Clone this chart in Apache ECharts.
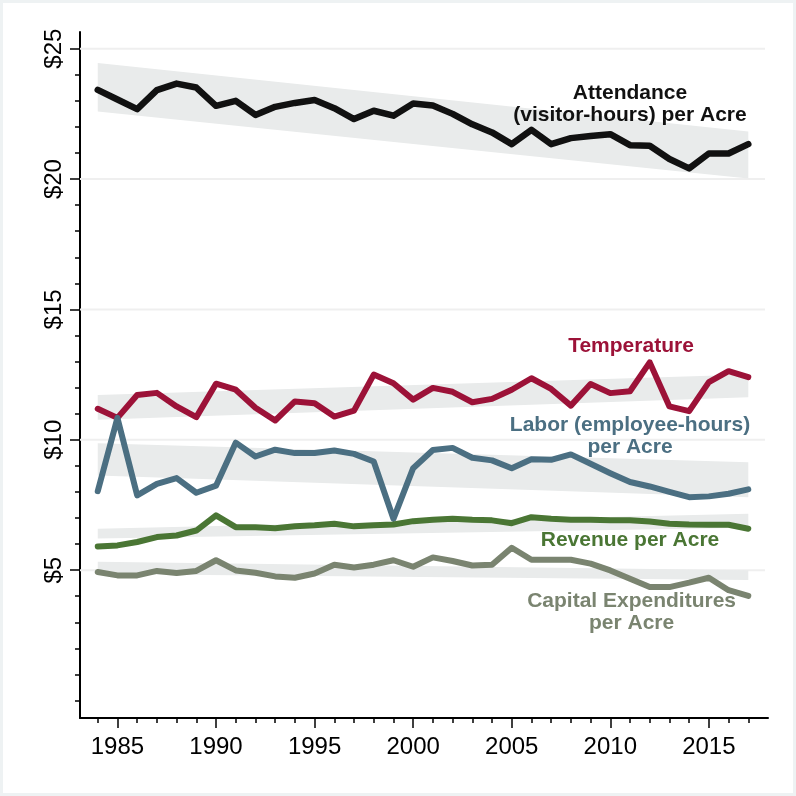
<!DOCTYPE html>
<html>
<head>
<meta charset="utf-8">
<script src="https://cdn.jsdelivr.net/npm/echarts@6/dist/echarts.min.js"></script>
<style>
html,body{margin:0;padding:0;background:#fff;}
#wrap{position:relative;width:796px;height:796px;}
#chart{width:796px;height:796px;}
#frame{position:absolute;left:0;top:0;width:796px;height:796px;box-sizing:border-box;border:3px solid #eef2f3;pointer-events:none;}
</style>
</head>
<body>
<div id="wrap"><div id="chart"></div><div id="frame"></div></div>
<script>
// ---- data ----
const years = [1984,1985,1986,1987,1988,1989,1990,1991,1992,1993,1994,1995,1996,1997,1998,1999,2000,2001,2002,2003,2004,2005,2006,2007,2008,2009,2010,2011,2012,2013,2014,2015,2016,2017];
const attendance = [23.42,23.05,22.68,23.41,23.66,23.51,22.81,23.0,22.46,22.77,22.92,23.03,22.72,22.3,22.62,22.43,22.9,22.82,22.5,22.1,21.79,21.34,21.89,21.34,21.57,21.65,21.72,21.3,21.28,20.77,20.41,20.98,20.98,21.34];
const temperature = [11.19,10.84,11.72,11.8,11.28,10.87,12.15,11.92,11.23,10.74,11.47,11.4,10.89,11.12,12.5,12.17,11.54,11.99,11.84,11.44,11.57,11.92,12.36,11.95,11.31,12.14,11.79,11.86,12.97,11.28,11.1,12.21,12.63,12.4];
const labor = [8.03,10.84,7.87,8.31,8.53,7.97,8.24,9.89,9.36,9.62,9.49,9.49,9.59,9.46,9.17,6.97,8.91,9.61,9.69,9.31,9.21,8.91,9.25,9.23,9.44,9.08,8.72,8.38,8.21,8.0,7.8,7.83,7.93,8.1];
const revenue = [5.91,5.95,6.08,6.27,6.33,6.52,7.1,6.65,6.65,6.61,6.68,6.72,6.78,6.68,6.72,6.75,6.88,6.93,6.97,6.93,6.91,6.8,7.03,6.97,6.93,6.93,6.91,6.91,6.87,6.78,6.75,6.74,6.74,6.59];
const capex = [4.93,4.8,4.8,4.97,4.89,4.97,5.38,4.99,4.9,4.76,4.71,4.87,5.21,5.1,5.21,5.38,5.13,5.49,5.35,5.18,5.21,5.86,5.4,5.4,5.4,5.25,4.99,4.67,4.35,4.35,4.52,4.71,4.23,4.01];

// trend confidence bands: values at first and last year
const bandYears = [1984, 2017];
const attendanceBandUpper = [24.45, 21.82];
const attendanceBandLower = [22.59, 20.02];
const temperatureBandUpper = [11.72, 12.5];
const temperatureBandLower = [10.77, 11.63];
const laborBandUpper = [9.87, 9.14];
const laborBandLower = [8.63, 7.8];
const revenueBandUpper = [6.59, 7.16];
const revenueBandLower = [6.21, 6.63];
const capexBandUpper = [5.32, 5.0];
const capexBandLower = [4.85, 4.62];

// ticks
const xMajorTicks = [1985,1990,1995,2000,2005,2010,2015];
const xMinorTicks = [1984,1985,1986,1987,1988,1989,1990,1991,1992,1993,1994,1995,1996,1997,1998,1999,2000,2001,2002,2003,2004,2005,2006,2007,2008,2009,2010,2011,2012,2013,2014,2015,2016,2017];
const yMajorTicks = [5,10,15,20,25];
const yMinorTicks = [0,1,2,3,4,5,6,7,8,9,10,11,12,13,14,15,16,17,18,19,20,21,22,23,24,25];
const yTickLabels = ['$5','$10','$15','$20','$25'];

const seriesNames = ['Attendance\n(visitor-hours) per Acre','Temperature','Labor (employee-hours)\nper Acre','Revenue per Acre','Capital Expenditures\nper Acre'];

// ---- chart ----
const FONT = '"Liberation Sans", Arial, Helvetica, sans-serif';
const colors = ['#111111','#9c1238','#4b6f82','#4a7634','#7a8470'];
const X_MIN = 1983.1, X_MAX = 2018, Y_MIN = -0.67, Y_MAX = 25.64;
const gridPos = {left: 80, right: 28, top: 32, bottom: 78};

function pairs(vals){ return years.map((y,i)=>[y, vals[i]]); }

const bands = [
  [attendanceBandUpper, attendanceBandLower],
  [temperatureBandUpper, temperatureBandLower],
  [laborBandUpper, laborBandLower],
  [revenueBandUpper, revenueBandLower],
  [capexBandUpper, capexBandLower]
].map(([u,l]) => [bandYears[0], bandYears[1], u[0], u[1], l[0], l[1]]);

const lineData = [attendance, temperature, labor, revenue, capex];
const annotationAnchors = [[2011.0,22.88],[2011.05,13.6],[2011.0,10.14],[2011.0,6.15],[2011.08,3.37]];

const chart = echarts.init(document.getElementById('chart'), null, {renderer:'canvas'});

const series = [];
// gridlines
series.push({
  type:'custom', xAxisIndex:0, yAxisIndex:0, z:1, silent:true,
  data: yMajorTicks.map(v=>[v]),
  encode:{y:0},
  renderItem(params, api){
    const cs = params.coordSys;
    const p = api.coord([X_MIN, api.value(0)]);
    return {type:'line', shape:{x1:cs.x, y1:p[1], x2:cs.x+cs.width-3, y2:p[1]}, style:{stroke:'#efefef', lineWidth:2}};
  }
});
// bands
series.push({
  type:'custom', xAxisIndex:0, yAxisIndex:0, z:2, silent:true,
  data: bands,
  encode:{x:[0,1], y:[2,3,4,5]},
  renderItem(params, api){
    const x0=api.value(0), x1=api.value(1);
    const pts=[api.coord([x0,api.value(2)]), api.coord([x1,api.value(3)]), api.coord([x1,api.value(5)]), api.coord([x0,api.value(4)])];
    return {type:'polygon', shape:{points:pts}, style:{fill:'#e9ebeb'}};
  }
});
// lines
lineData.forEach((vals,i)=>{
  series.push({
    type:'line', name:'s'+i, xAxisIndex:0, yAxisIndex:0, z:3, silent:true,
    data: pairs(vals), showSymbol:false, symbol:'none',
    lineStyle:{color:colors[i], width:(i===0?6.5:6), cap:'round', join:'round'}
  });
});
// annotations
series.push({
  type:'scatter', xAxisIndex:0, yAxisIndex:0, z:4, silent:true, symbolSize:0,
  itemStyle:{opacity:1},
  data: annotationAnchors.map((a,i)=>({value:a, name:seriesNames[i], label:{color:colors[i]}})),
  label:{show:true, position:'inside', formatter:p=>p.name, fontFamily:FONT, fontWeight:'bold', fontSize:21, lineHeight:22, align:'center', verticalAlign:'middle', opacity:1}
});

const option = {
  animation:false,
  backgroundColor:'#ffffff',
  grid:[Object.assign({}, gridPos), Object.assign({}, gridPos)],
  xAxis:[
    {type:'value', gridIndex:0, min:X_MIN, max:X_MAX, position:'bottom',
     axisLine:{show:true, onZero:false, lineStyle:{color:'#000', width:2}},
     axisTick:{show:true, customValues:xMajorTicks, length:10, lineStyle:{color:'#000', width:1.5}},
     axisLabel:{show:true, customValues:xMajorTicks, margin:17, color:'#000', fontFamily:FONT, fontSize:24, formatter:v=>String(v)},
     splitLine:{show:false}},
    {type:'value', gridIndex:1, min:X_MIN, max:X_MAX, position:'bottom',
     axisLine:{show:false, onZero:false},
     axisTick:{show:true, customValues:xMinorTicks, length:5, lineStyle:{color:'#000', width:1.5}},
     axisLabel:{show:false}, splitLine:{show:false}}
  ],
  yAxis:[
    {type:'value', gridIndex:0, min:Y_MIN, max:Y_MAX, position:'left',
     axisLine:{show:true, onZero:false, lineStyle:{color:'#000', width:2}},
     axisTick:{show:true, customValues:yMajorTicks, length:10, lineStyle:{color:'#000', width:1.5}},
     axisLabel:{show:true, customValues:yMajorTicks, rotate:90, margin:14, color:'#000', fontFamily:FONT, fontSize:24,
       formatter:v=>yTickLabels[yMajorTicks.indexOf(Math.round(v))] || ''},
     splitLine:{show:false}},
    {type:'value', gridIndex:1, min:Y_MIN, max:Y_MAX, position:'left',
     axisLine:{show:false, onZero:false},
     axisTick:{show:true, customValues:yMinorTicks, length:5, lineStyle:{color:'#000', width:1.5}},
     axisLabel:{show:false}, splitLine:{show:false}}
  ],
  series: series
};
chart.setOption(option);
</script>
</body>
</html>
